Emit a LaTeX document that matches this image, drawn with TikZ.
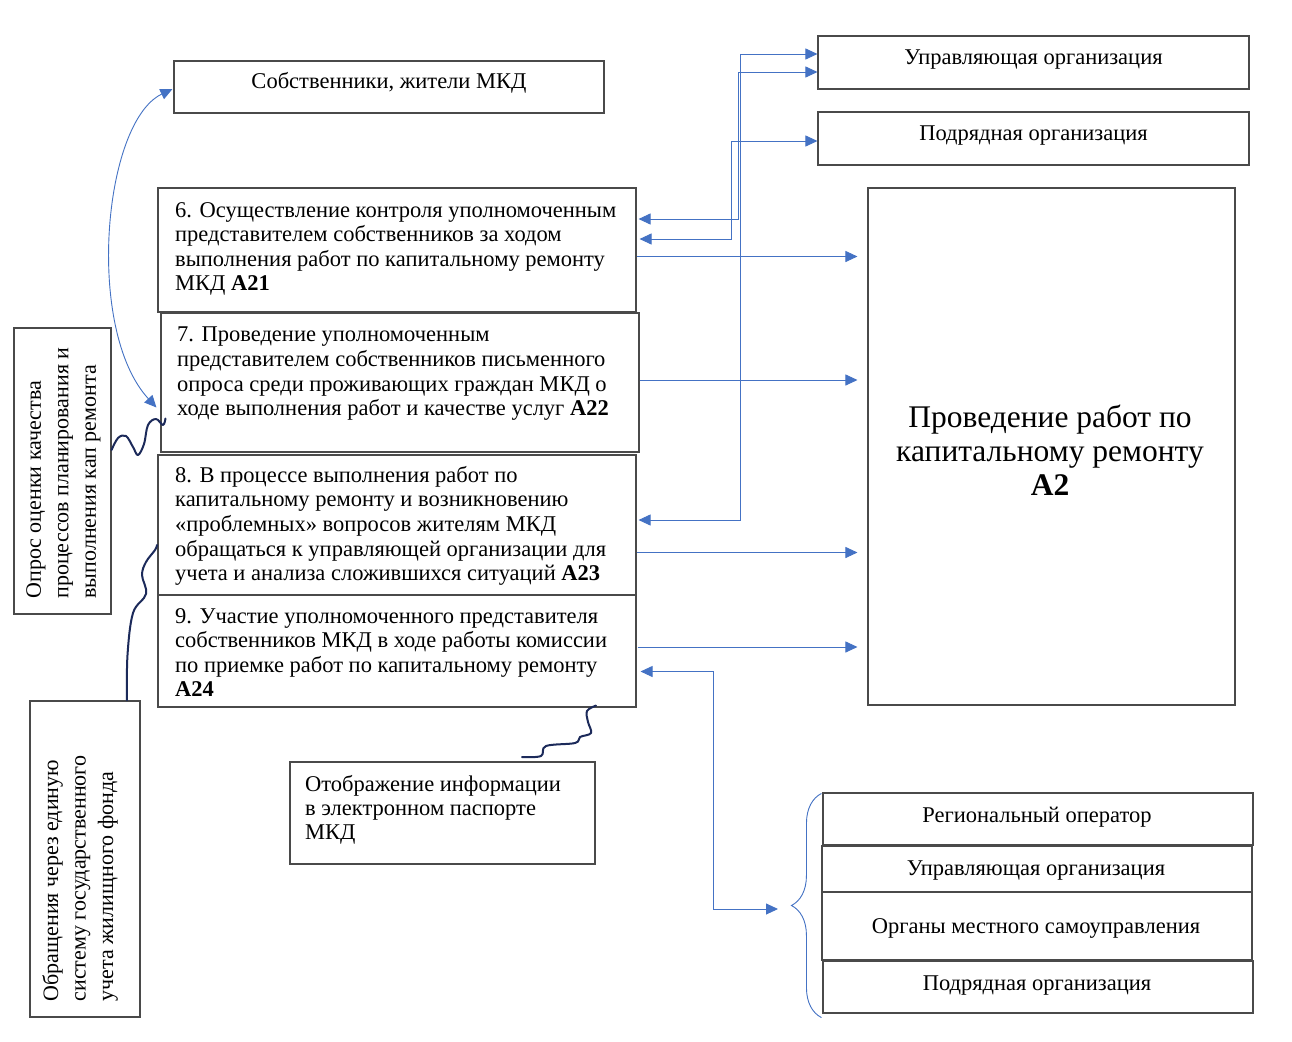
\documentclass[tikz,border=0pt]{standalone}
\usepackage{fontspec}
\setmainfont{Liberation Serif}
\usetikzlibrary{arrows.meta,decorations.pathreplacing,calc}
\definecolor{lnblue}{HTML}{4472C4}
\definecolor{wavenavy}{HTML}{1C2A5A}
\definecolor{boxgray}{HTML}{4A4A4A}
\begin{document}
\begin{tikzpicture}[x=1pt,y=-1pt,
  box/.style={draw=boxgray, line width=1.1pt, inner sep=0pt},
  txt/.style={inner sep=0pt, align=left, font=\fontsize{22.5}{24.6}\selectfont},
  ctxt/.style={inner sep=0pt, align=center, font=\fontsize{22.5}{24.6}\selectfont},
  rtxt/.style={inner sep=0pt, align=left, rotate=90, font=\fontsize{22}{27.5}\selectfont},
  tip/.tip={Triangle[length=12pt,width=11pt]},
  conn/.style={draw=lnblue, line width=0.9pt, tip-tip},
  arr/.style={draw=lnblue, line width=0.9pt, -tip},
  wave/.style={draw=wavenavy, line width=2pt, line cap=round, line join=round},
]
\fill[white] (0,0) rectangle (1292,1041);
\useasboundingbox (0,0) rectangle (1292,1041);

% boxes
\node[box, minimum width=430pt, minimum height=52pt] (sob) at (389,87) {};
\node[box, minimum width=431pt, minimum height=53pt] (uo1) at (1033.5,62.5) {};
\node[box, minimum width=431pt, minimum height=53pt] (po1) at (1033.5,138.5) {};
\node[box, minimum width=367pt, minimum height=517pt] (a2) at (1051.5,446.5) {};
\node[box, minimum width=478pt, minimum height=124pt] (b6) at (397,250) {};
\node[box, minimum width=478pt, minimum height=139pt] (b7) at (400,382.5) {};
\node[box, minimum width=478pt, minimum height=140pt] (b8) at (397,525) {};
\node[box, minimum width=478pt, minimum height=112pt] (b9) at (397,651) {};
\node[box, minimum width=97pt, minimum height=286pt] (lq) at (62.5,471) {};
\node[box, minimum width=110pt, minimum height=316pt] (lg) at (85,859) {};
\node[box, minimum width=305pt, minimum height=102pt] (ep) at (442.5,813) {};
\node[box, minimum width=430pt, minimum height=52pt] (ro) at (1038,819) {};
\node[box, minimum width=430pt, minimum height=46pt] (uo2) at (1037,869) {};
\node[box, minimum width=430pt, minimum height=68pt] (oms) at (1037,926) {};
\node[box, minimum width=430pt, minimum height=52pt] (po2) at (1038,987) {};

% texts
\node[ctxt] (sobt) at (389,83) {Собственники, жители МКД};
\node[ctxt] (uo1t) at (1033.5,59.5) {Управляющая организация};
\node[ctxt] (po1t) at (1033.5,135.5) {Подрядная организация};
\node[ctxt, font=\fontsize{31.5}{34}\selectfont] (a2t) at (1050,450)
  {Проведение работ по\\капитальному ремонту\\\textbf{А2}};
\node[txt, anchor=north west] (b6t) at (175,202)
  {6. Осуществление контроля уполномоченным\\представителем собственников за ходом\\выполнения работ по капитальному ремонту\\МКД \textbf{А21}};
\node[txt, anchor=north west] (b7t) at (177,327)
  {7. Проведение уполномоченным\\представителем собственников письменного\\опроса среди проживающих граждан МКД о\\ходе выполнения работ и качестве услуг \textbf{А22}};
\node[txt, anchor=north west] (b8t) at (175,466)
  {8. В процессе выполнения работ по\\капитальному ремонту и возникновению\\«проблемных» вопросов жителям МКД\\обращаться к управляющей организации для\\учета и анализа сложившихся ситуаций \textbf{А23}};
\node[txt, anchor=north west] (b9t) at (175,608)
  {9. Участие уполномоченного представителя\\собственников МКД в ходе работы комиссии\\по приемке работ по капитальному ремонту\\\textbf{А24}};
\node[rtxt] (lqt) at (63.5,473)
  {Опрос оценки качества\\процессов планирования и\\выполнения кап ремонта};
\node[rtxt] (lgt) at (80,878.5)
  {Обращения через единую\\систему государственного\\учета жилищного фонда};
\node[txt, anchor=north west, font=\fontsize{22.5}{24}\selectfont] (ept) at (305,775)
  {Отображение информации\\в электронном паспорте\\МКД};
\node[ctxt] (rot) at (1037,817.5) {Региональный оператор};
\node[ctxt] (uo2t) at (1036,870.5) {Управляющая организация};
\node[ctxt] (omst) at (1036,928.5) {Органы местного самоуправления};
\node[ctxt] (po2t) at (1037,985.5) {Подрядная организация};

% connectors to the top-right boxes
\coordinate (jA) at (740,520); \coordinate (kA) at (740,54);
\coordinate (jB) at (738.5,219); \coordinate (kB) at (738.5,72);
\coordinate (jC) at (731,239); \coordinate (kC) at (731,141);
\draw[conn] ($(b8.east |- jA)+(2,0)$) -- (jA) -- (kA) -- (uo1.west |- kA);
\draw[conn] ($(b6.east |- jB)+(2,0)$) -- (jB) -- (kB) -- (uo1.west |- kB);
\draw[conn] ($(b6.east |- jC)+(3,0)$) -- (jC) -- (kC) -- (po1.west |- kC);

% arrows into A2
\coordinate (s6) at ($(b6.east)+(0,6.5)$);
\coordinate (s7) at ($(b7.east)+(0,-2.5)$);
\coordinate (s8) at ($(b8.east)+(0,27.5)$);
\coordinate (s9) at ($(b9.east)+(1,-4)$);
\draw[arr, shorten >=10pt] (s6) -- (a2.west |- s6);
\draw[arr, shorten >=10pt] (s7) -- (a2.west |- s7);
\draw[arr, shorten >=10pt] (s8) -- (a2.west |- s8);
\draw[arr, shorten >=10pt] (s9) -- (a2.west |- s9);

% brace and arrow to it
\draw[draw=lnblue, line width=0.9pt, decorate, decoration={brace, amplitude=30pt}]
  ($(po2.south west)+(-1,4)$) -- ($(ro.north west)+(-1,1)$);
\coordinate (bt) at (792,909);
\coordinate (kD) at (713,909);
\draw[conn, shorten >=14pt] ($(b9.east)+(4,20.5)$) -| (kD) -- (bt);

% curved arrow
\draw[conn] ($(b7.west)+(-4,25)$) .. controls (85,330) and (103,122) .. ($(sob.west)+(-1,2)$);

% wavy links
\draw[wave] plot[smooth, tension=0.6] coordinates {($(lq.east)+(0,-21)$) (118,438) (126,436) (133,447) (138,455) (144,444) (148,425) (156,419) (163,425) ($(b7.west)+(5,36)$)};
\draw[wave] plot[smooth, tension=0.6] coordinates {($(lg.north)+(42,0)$) (127.5,655) (133,613) (146,594) (142,575) (146,562) (155,550) (157,545)};
\draw[wave] plot[smooth, tension=0.6] coordinates {($(b9.south)+(199,-2)$) (587,711) (588,722) (591,733) (580,737) (575,743) (546,746) (541,756) (522,757)};
\end{tikzpicture}
\end{document}
